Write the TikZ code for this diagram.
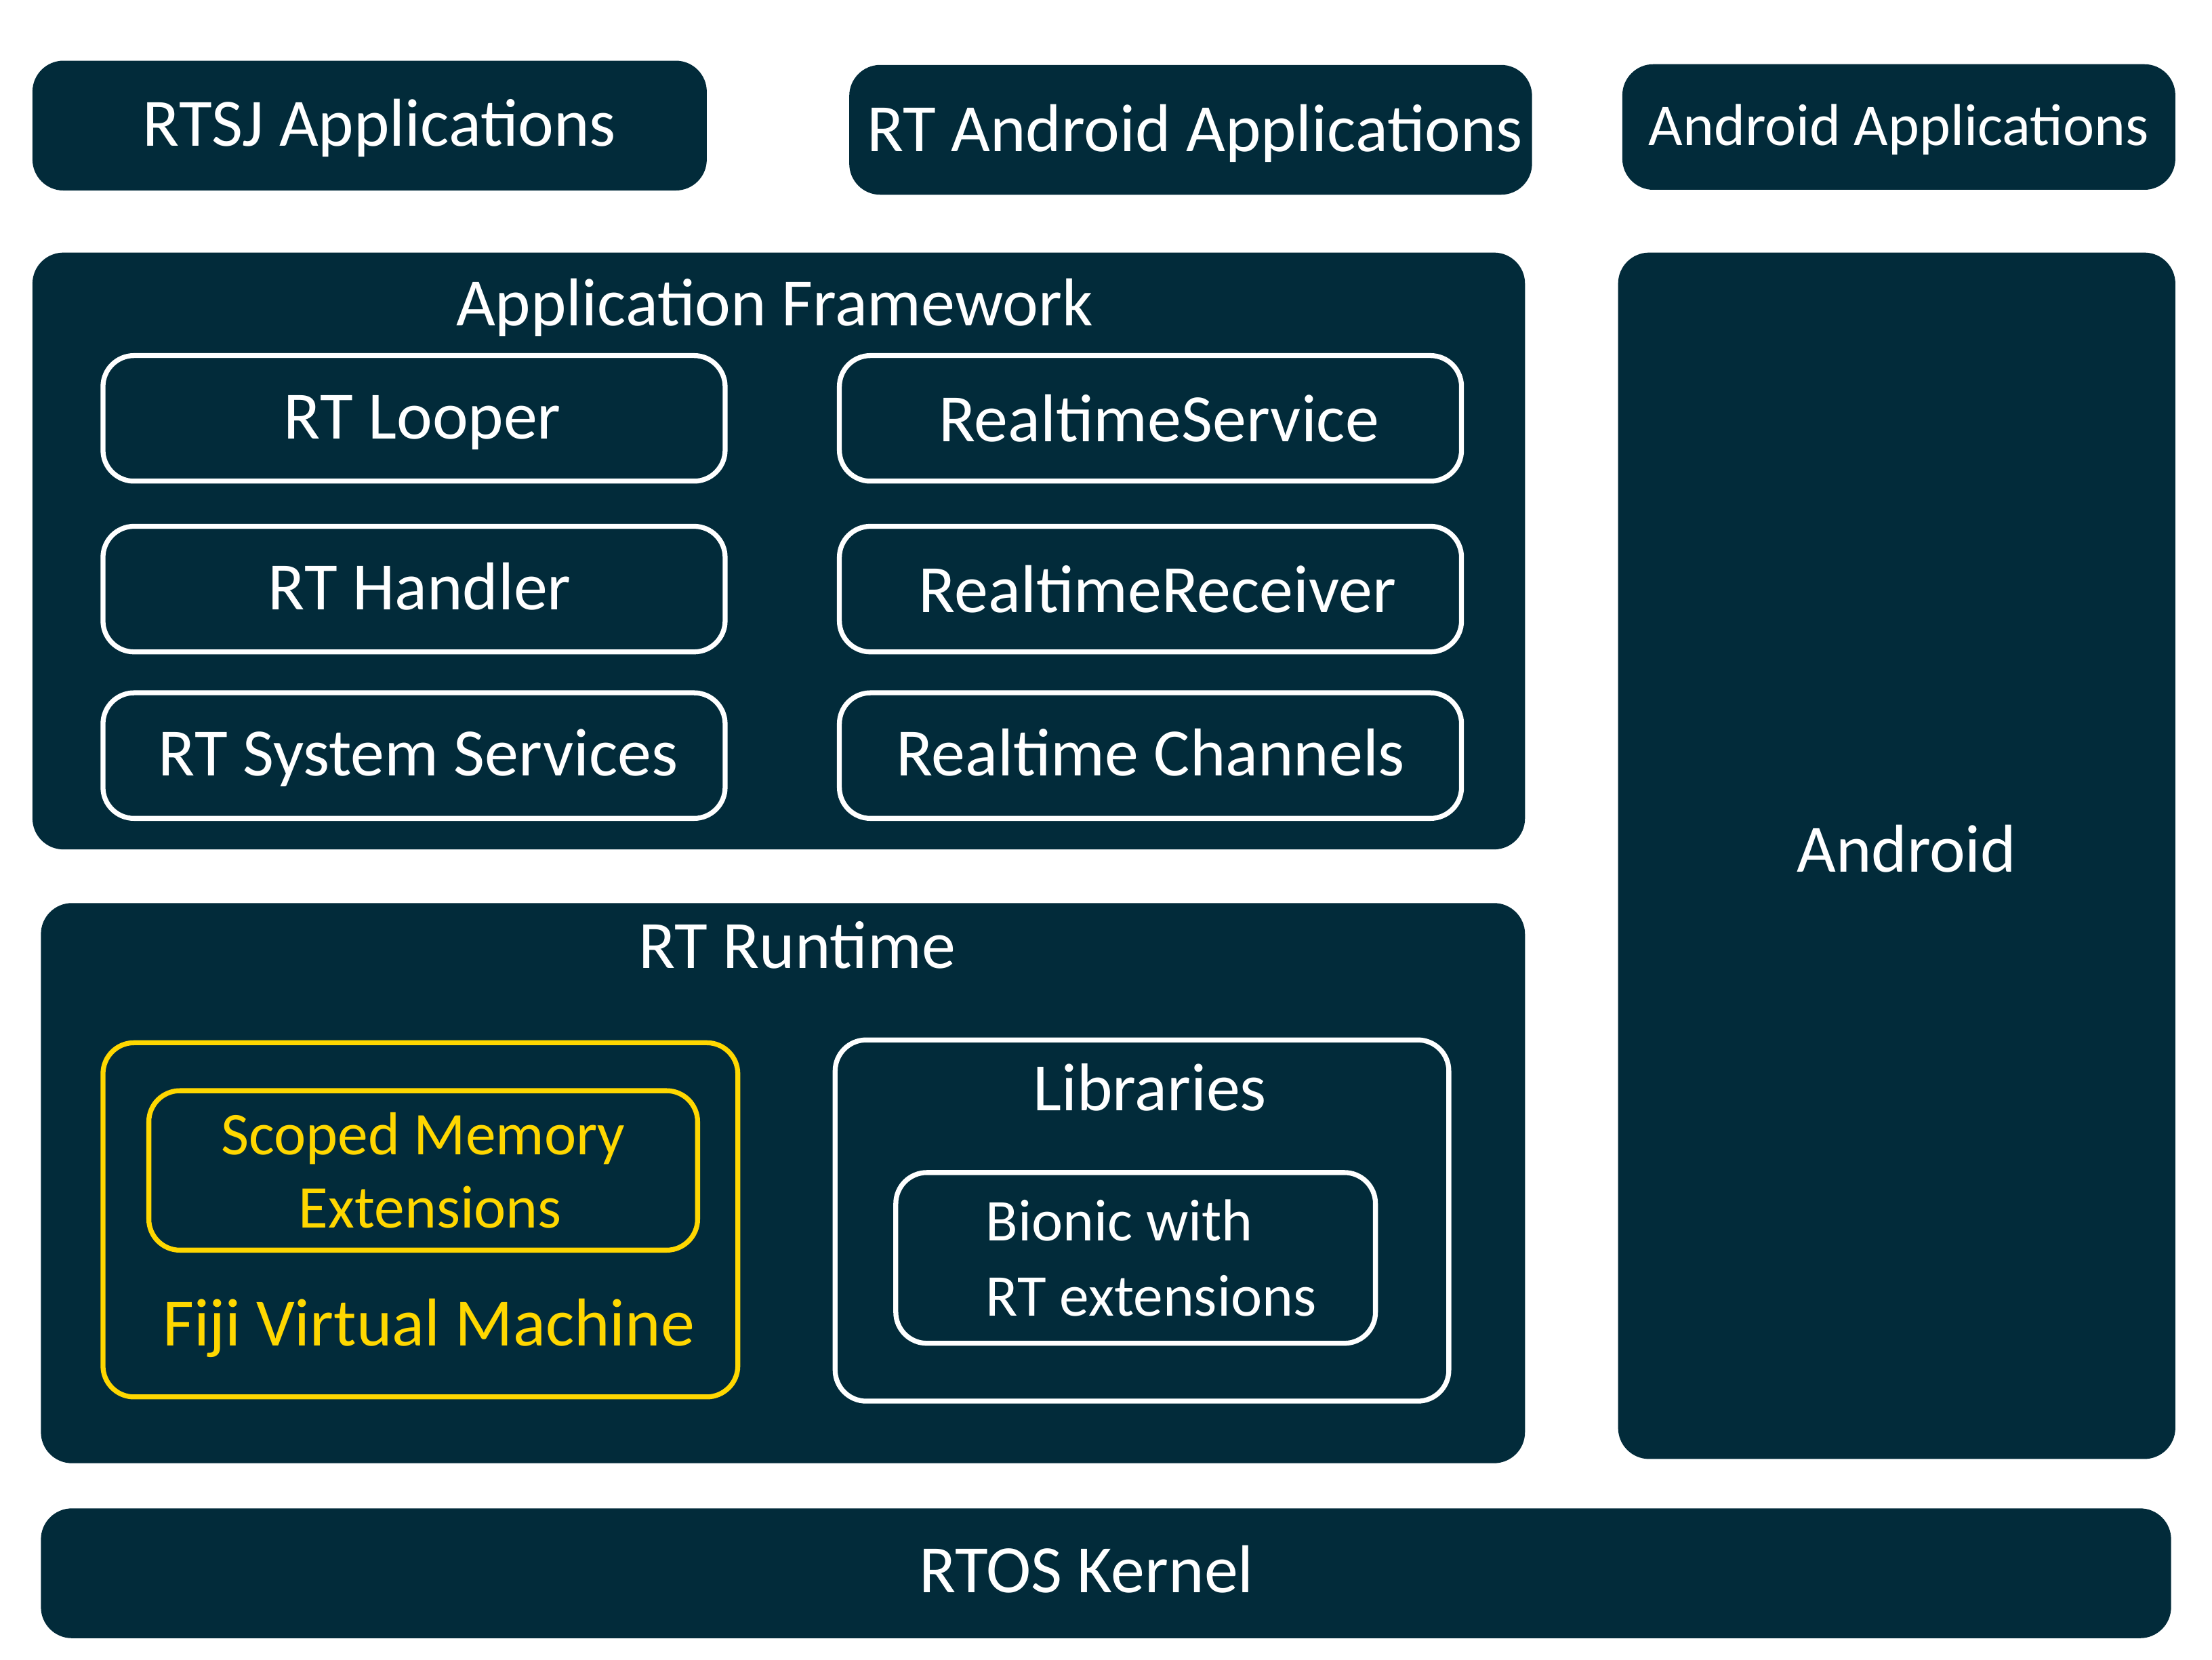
\documentclass[tikz,border=0pt]{standalone}
\usepackage{fontspec}
\setmainfont{Carlito}
\definecolor{rtnavy}{HTML}{022B3A}
\definecolor{rtgold}{HTML}{FFD700}
\newcommand{\bigfont}{\fontsize{48}{54}\selectfont}
\newcommand{\midfont}{\fontsize{43}{52}\selectfont}
\tikzset{
  layer/.style={fill=rtnavy, rounded corners=22pt, inner sep=0pt, text=white,
    font=\bigfont, text height=35pt, text depth=6pt},
  module/.style={draw=white, line width=3.5pt, rounded corners=22pt, inner sep=0pt,
    text=white, font=\bigfont, text height=35pt, text depth=6pt,
    minimum width=441pt, minimum height=89pt},
  goldbox/.style={draw=rtgold, line width=3.5pt, rounded corners=22pt, inner sep=0pt},
  title/.style={anchor=base, text=white, font=\bigfont, inner sep=0pt},
  boxtext/.style={text=white, font=\bigfont, inner sep=0pt, text height=35pt, text depth=6pt}
}
\begin{document}
\begin{tikzpicture}[x=1pt, y=-1pt]
  \useasboundingbox (0,0) rectangle (1568,1176);
  % top row of applications
  \node[layer, minimum width=478pt, minimum height=92pt,
    label={[boxtext, xshift=7pt]center:RTSJ Applications}] (rtsj) at (262,89) {};
  \node[layer, minimum width=484pt, minimum height=92pt,
    label={[boxtext, xshift=3pt, yshift=-1pt]center:RT Android Applications}] (rtandroid) at (844,92) {};
  \node[layer, minimum width=392pt, minimum height=89pt, font=\fontsize{42}{50}\selectfont,
    text height=31pt, text depth=5pt] (androidapps) at (1346,90) {Android Applications};
  % application framework
  \node[layer, minimum width=1058pt, minimum height=423pt] (framework) at (552,390.5) {};
  \node[title] (fwtitle) at (549,231) {Application Framework};
  \node[module, label={[boxtext, xshift=6pt]center:RT Looper}] (looper) at (293.5,296.5) {};
  \node[module, label={[boxtext, xshift=6pt, yshift=-2pt]center:RealtimeService}] (service) at (815.5,296.5) {};
  \node[module, label={[boxtext, xshift=4pt]center:RT Handler}] (handler) at (293.5,417.5) {};
  \node[module, label={[boxtext, xshift=5pt, yshift=-2pt]center:RealtimeReceiver}] (receiver) at (815.5,417.5) {};
  \node[module, label={[boxtext, xshift=3pt]center:RT System Services}] (sysserv) at (293.5,535.5) {};
  \node[module] (channels) at (815.5,535.5) {Realtime Channels};
  % rt runtime
  \node[layer, minimum width=1052pt, minimum height=397pt] (runtime) at (555,838.5) {};
  \node[title] (rttitle) at (565,686) {RT Runtime};
  \node[goldbox, minimum width=450pt, minimum height=251pt] (fiji) at (298,864.5) {};
  \node[goldbox, minimum width=389pt, minimum height=113pt, align=center,
    text=rtgold, font=\midfont] (scoped) at (300,829.5) {Scoped Memory\\\hspace*{10pt}Extensions};
  \node[title, text=rtgold] (fijititle) at (304,954) {Fiji Virtual Machine};
  \node[module, minimum width=435pt, minimum height=256pt] (libs) at (809.5,865) {};
  \node[title] (libtitle) at (815,787) {Libraries};
  \node[module, minimum width=340pt, minimum height=121pt] (bionic) at (805,891.5) {};
  \node[align=left, text=white, font=\fontsize{42}{53}\selectfont, inner sep=0pt]
    (bionictext) at (816,891.5) {Bionic with\\RT extensions};
  % android and kernel
  \node[layer, minimum width=395pt, minimum height=855pt,
    label={[boxtext, xshift=7pt, yshift=3pt]center:Android}] (android) at (1344.5,606.5) {};
  \node[layer, minimum width=1510pt, minimum height=92pt,
    label={[boxtext, xshift=-14pt, yshift=1pt]center:RTOS Kernel}] (kernel) at (784,1115) {};
\end{tikzpicture}
\end{document}
